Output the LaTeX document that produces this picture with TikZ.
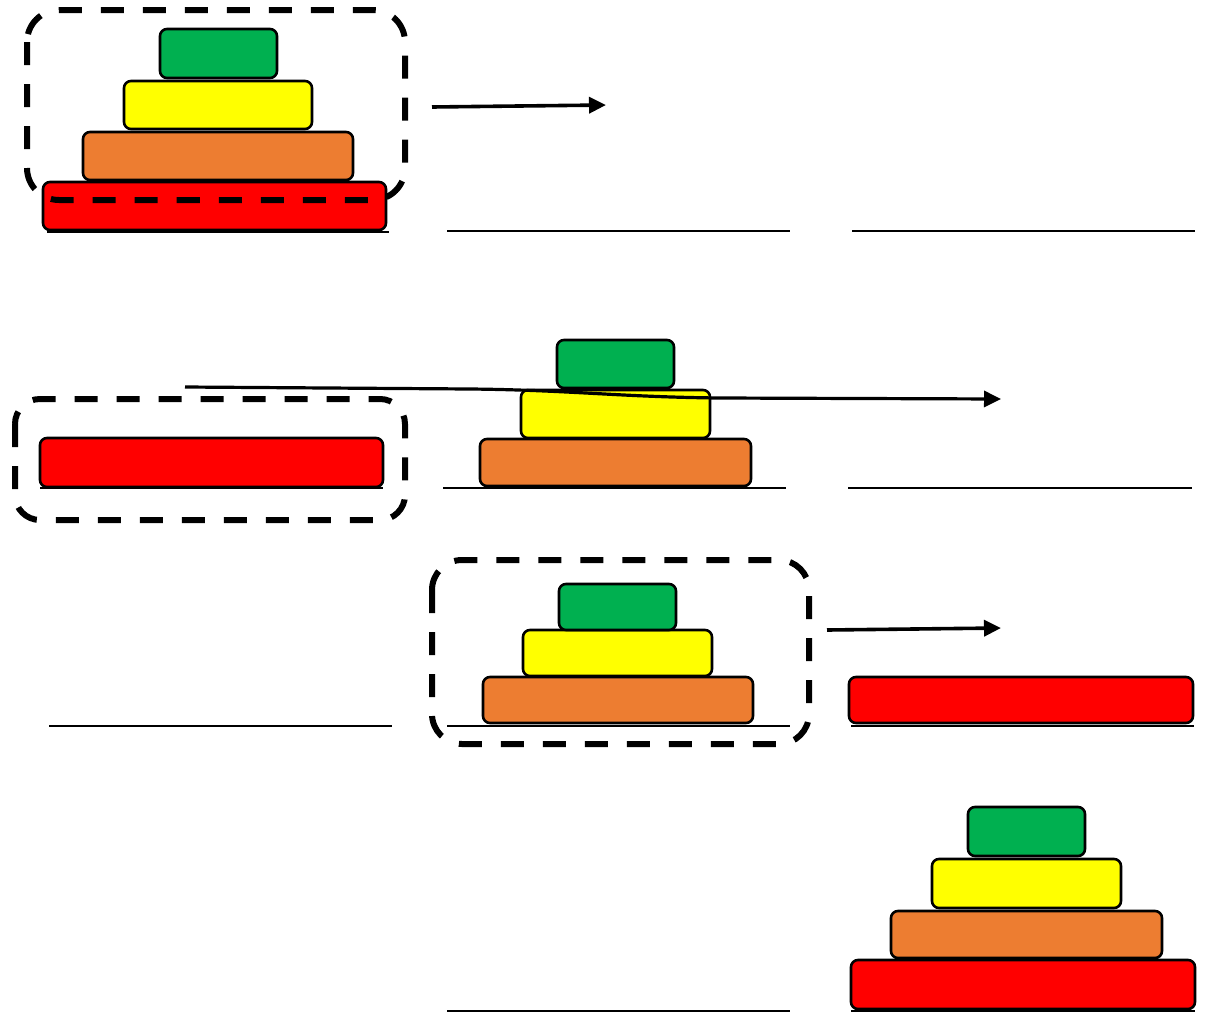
\documentclass[tikz,border=0pt]{standalone}
\usetikzlibrary{arrows.meta}
\definecolor{dgreen}{HTML}{00B050}
\definecolor{dyellow}{HTML}{FFFF00}
\definecolor{dorange}{HTML}{ED7D31}
\definecolor{dred}{HTML}{FF0000}
\newcommand{\hdisk}[6]{%
  \pgfmathsetmacro\dcx{(#3+#5)/2}%
  \pgfmathsetmacro\dcy{(#4+#6)/2}%
  \pgfmathsetmacro\dw{#5-#3}%
  \pgfmathsetmacro\dh{#6-#4}%
  \node[disk, fill=#2, minimum width=\dw pt, minimum height=\dh pt] (#1) at (\dcx,\dcy) {};}
\begin{document}
\begin{tikzpicture}[x=1pt,y=-1pt,
  disk/.style={draw=black, line width=2.6pt, rounded corners=7pt, rectangle, inner sep=0pt, outer sep=0pt},
  baseln/.style={draw=black, line width=2.6pt},
  dashbox/.style={draw=black, line width=6pt, dash pattern=on 23pt off 19pt, rounded corners=32pt},
  movearrow/.style={draw=black, line width=3.6pt, -{Triangle[length=17pt,width=16pt]}}]
\useasboundingbox (0,0) rectangle (1207,1012);
% ---------- row 1 ----------
\hdisk{r1}{dred}{43}{182}{386}{230}
\hdisk{o1}{dorange}{83}{132}{353}{180}
\hdisk{y1}{dyellow}{124}{81}{312}{129}
\hdisk{g1}{dgreen}{160}{29}{277}{78}
\coordinate (b1a) at (47,232); \coordinate (b1b) at (389,232);
\coordinate (b2a) at (447,231); \coordinate (b2b) at (790,231);
\coordinate (b3a) at (852,231); \coordinate (b3b) at (1195,231);
\draw[baseln] (b1a) -- (b1b);
\draw[baseln] (b2a) -- (b2b);
\draw[baseln] (b3a) -- (b3b);
\draw[dashbox] (27,10) rectangle (405,200);
\coordinate (a1s) at (432,107); \coordinate (a1e) at (606,105);
\draw[movearrow] (a1s) -- (a1e);
% ---------- row 2 ----------
\hdisk{r2}{dred}{40}{438}{383}{487}
\hdisk{o2}{dorange}{480}{439}{751}{486}
\hdisk{y2}{dyellow}{521}{390}{710}{438}
\hdisk{g2}{dgreen}{557}{340}{674}{388}
\coordinate (c1a) at (40,488); \coordinate (c1b) at (383,488);
\coordinate (c2a) at (443,488); \coordinate (c2b) at (786,488);
\coordinate (c3a) at (848,488); \coordinate (c3b) at (1192,488);
\draw[baseln] (c1a) -- (c1b);
\draw[baseln] (c2a) -- (c2b);
\draw[baseln] (c3a) -- (c3b);
\draw[dashbox, rounded corners=25pt] (15,399) rectangle (405,520);
\coordinate (a2s) at (185,387); \coordinate (a2m) at (470,389);
\coordinate (a2n) at (720,398); \coordinate (a2e) at (1001,399);
\draw[movearrow, line width=3.2pt] (a2s) -- (a2m) .. controls (570,390) and (620,397) .. (a2n) -- (a2e);
% ---------- row 3 ----------
\hdisk{o3}{dorange}{483}{677}{753}{723}
\hdisk{y3}{dyellow}{523}{630}{712}{676}
\hdisk{g3}{dgreen}{559}{584}{676}{630}
\hdisk{r3}{dred}{849}{677}{1193}{723}
\coordinate (d1a) at (49,726); \coordinate (d1b) at (392,726);
\coordinate (d2a) at (447,726); \coordinate (d2b) at (790,726);
\coordinate (d3a) at (851,726); \coordinate (d3b) at (1194,726);
\draw[baseln] (d1a) -- (d1b);
\draw[baseln] (d2a) -- (d2b);
\draw[baseln] (d3a) -- (d3b);
\draw[dashbox, rounded corners=30pt] (432,560) rectangle (809,744);
\coordinate (a3s) at (827,630); \coordinate (a3e) at (1001,628);
\draw[movearrow] (a3s) -- (a3e);
% ---------- row 4 ----------
\hdisk{r4}{dred}{851}{960}{1195}{1009}
\hdisk{o4}{dorange}{891}{911}{1162}{958}
\hdisk{y4}{dyellow}{932}{859}{1121}{908}
\hdisk{g4}{dgreen}{968}{807}{1085}{856}
\coordinate (e2a) at (447,1011); \coordinate (e2b) at (790,1011);
\coordinate (e3a) at (851,1011); \coordinate (e3b) at (1195,1011);
\draw[baseln] (e2a) -- (e2b);
\draw[baseln] (e3a) -- (e3b);
\end{tikzpicture}
\end{document}
